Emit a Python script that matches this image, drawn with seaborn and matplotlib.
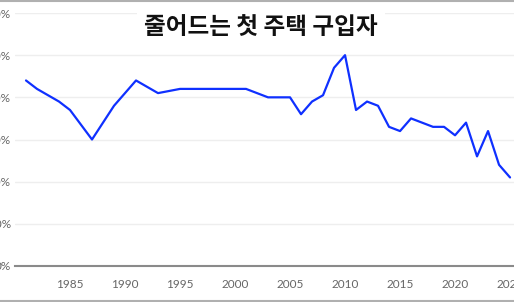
import matplotlib
matplotlib.use("Agg")
import matplotlib.pyplot as plt
import seaborn as sns
import pandas as pd
from matplotlib.lines import Line2D

years = [1981, 1982, 1983, 1984, 1985, 1986, 1987, 1988, 1989, 1990, 1991, 1992, 1993,
         1994, 1995, 1996, 1997, 1998, 1999, 2000, 2001, 2002, 2003, 2004, 2005, 2006,
         2007, 2008, 2009, 2010, 2011, 2012, 2013, 2014, 2015, 2016, 2017, 2018, 2019,
         2020, 2021, 2022, 2023, 2024, 2025]
share = [44, 42, 40.5, 39, 37, 33.5, 30, 34, 38, 41, 44, 42.5, 41,
         41.5, 42, 42, 42, 42, 42, 42, 42, 41, 40, 40, 40, 36,
         39, 40.5, 47, 50, 37, 39, 38, 33, 32, 35, 34, 33, 33,
         31, 34, 26, 32, 24, 21]
yticks = [0, 10, 20, 30, 40, 50, 60]
ytick_labels = [f"{v}%" for v in yticks]
xticks = [1985, 1990, 1995, 2000, 2005, 2010, 2015, 2020, 2025]
title = "줄어드는 첫 주택 구입자"

df = pd.DataFrame({"year": years, "share": share})

sns.set_style("white")
plt.rcParams["font.family"] = ["Lato", "DejaVu Sans"]

fig = plt.figure(figsize=(5.14, 3.02), dpi=100)
ax = fig.add_axes([15 / 514, 36 / 302, 499 / 514, 253 / 302])

sns.lineplot(data=df, x="year", y="share", ax=ax, color="#0f30ff", linewidth=1.6)

ax.set_xlim(1980, 2025.36)
ax.set_ylim(0, 60)
ax.set_yticks(yticks)
ax.set_yticklabels(ytick_labels)
ax.set_xticks(xticks)
ax.set_xticklabels([str(x) for x in xticks])
ax.set_xlabel("")
ax.set_ylabel("")
ax.grid(axis="y", color="#eeeeee", linewidth=1.0)
ax.set_axisbelow(True)
for s in ["top", "right", "left"]:
    ax.spines[s].set_visible(False)
ax.spines["bottom"].set_color("#8a8a8a")
ax.spines["bottom"].set_linewidth(1.5)
ax.tick_params(axis="y", length=0, pad=3, labelsize=8.5, labelcolor="#666666")
ax.tick_params(axis="x", length=3, color="#cccccc", pad=6, labelsize=8.5, labelcolor="#666666")

fig.text(0.508, 1 - 27 / 302, title, ha="center", va="center", fontsize=17, fontweight="bold",
         family=["Noto Sans CJK KR", "DejaVu Sans"], color="#111111",
         bbox=dict(facecolor="white", edgecolor="none", pad=5))

fig.add_artist(Line2D([0, 1], [1 - 0.5 / 302, 1 - 0.5 / 302], color="#b0b0b0", linewidth=1.5,
                      transform=fig.transFigure))
fig.add_artist(Line2D([0, 1], [1.5 / 302, 1.5 / 302], color="#b0b0b0", linewidth=1.5,
                      transform=fig.transFigure))

fig.savefig("out.png", dpi=100)
